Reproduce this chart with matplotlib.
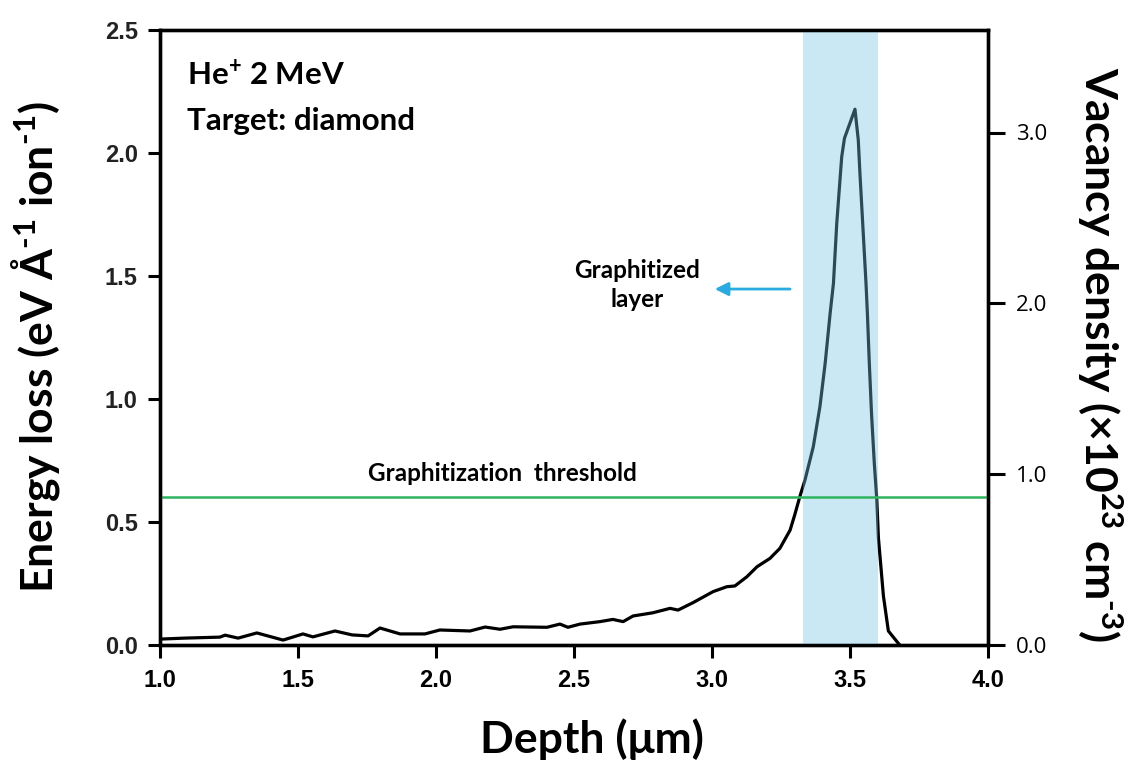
import matplotlib
matplotlib.use('Agg')
import matplotlib.pyplot as plt

# SRIM-like profile
depth = [1.00, 1.09, 1.217, 1.236, 1.283, 1.351, 1.446, 1.518, 1.554, 1.634,
         1.696, 1.754, 1.797, 1.87, 1.96, 2.014, 2.123, 2.178, 2.232, 2.279,
         2.402, 2.449, 2.478, 2.522, 2.594, 2.641, 2.678, 2.714, 2.786, 2.848,
         2.877, 2.931, 3.004, 3.054, 3.083, 3.127, 3.163, 3.210, 3.246, 3.283,
         3.30, 3.319, 3.337, 3.367, 3.391, 3.41, 3.428, 3.44, 3.452, 3.461,
         3.470, 3.480, 3.518, 3.530, 3.536, 3.546, 3.558, 3.563, 3.57, 3.578,
         3.588, 3.597, 3.603, 3.621, 3.639, 3.68]
energy_loss = [0.024, 0.028, 0.032, 0.040, 0.028, 0.049, 0.020, 0.045, 0.033, 0.057,
               0.041, 0.037, 0.069, 0.045, 0.045, 0.061, 0.057, 0.073, 0.064, 0.074,
               0.072, 0.085, 0.072, 0.085, 0.095, 0.104, 0.095, 0.118, 0.131, 0.149,
               0.142, 0.172, 0.217, 0.237, 0.240, 0.278, 0.318, 0.352, 0.393, 0.467,
               0.53, 0.606, 0.671, 0.806, 0.969, 1.145, 1.348, 1.47, 1.714, 1.85,
               1.985, 2.06, 2.178, 2.053, 1.917, 1.714, 1.47, 1.348, 1.145, 0.94,
               0.739, 0.593, 0.435, 0.2, 0.057, 0.0]
threshold = 0.6
layer = [3.33, 3.60]
xticks = [1.0, 1.5, 2.0, 2.5, 3.0, 3.5, 4.0]
left_ticks = [0.0, 0.5, 1.0, 1.5, 2.0, 2.5]
right_ticks = [0.0, 1.0, 2.0, 3.0]

plt.rcParams['mathtext.fontset'] = 'custom'
plt.rcParams['mathtext.rm'] = 'Lato:bold'
plt.rcParams['mathtext.bf'] = 'Lato:bold'
plt.rcParams['mathtext.it'] = 'Lato:bold'
plt.rcParams['mathtext.default'] = 'bf'

fig = plt.figure(figsize=(11.37, 7.65), dpi=100)
ax = fig.add_axes([160 / 1137, 1 - 645 / 765, 828 / 1137, 615 / 765])

ax.plot(depth, energy_loss, color='black', lw=2.3, zorder=2)
ax.axvspan(layer[0], layer[1], color='#76c5e0', alpha=0.38, lw=0, zorder=3)
ax.axhline(threshold, color='#2fb45e', lw=1.8, zorder=4)

ax.set_xlim(1.0, 4.0)
ax.set_ylim(0, 2.5)
ax.set_xticks(xticks)
ax.set_yticks(left_ticks)
ax.set_xticklabels(['%.1f' % v for v in xticks], fontfamily='Liberation Sans',
                   fontweight='bold', fontsize=17)
ax.set_yticklabels(['%.1f' % v for v in left_ticks], fontfamily='Liberation Sans',
                   fontweight='bold', fontsize=17, color='#222222')
ax.tick_params(axis='x', direction='out', length=9, width=2.2, pad=8)
ax.tick_params(axis='y', direction='out', length=9, width=2.2, pad=7)
for s in ax.spines.values():
    s.set_linewidth(2.4)

ax2 = ax.twinx()
ax2.set_ylim(0, 3.6)
ax2.set_yticks(right_ticks)
ax2.set_yticklabels(['%.1f' % v for v in right_ticks], fontfamily='Open Sans',
                    fontsize=16)
ax2.tick_params(direction='out', length=12, width=2.2, pad=8)
for s in ax2.spines.values():
    s.set_linewidth(2.4)

lab = dict(fontfamily='Lato', fontweight='bold', fontsize=32)
ax.set_xlabel('Depth (μm)', **lab)
ax.xaxis.set_label_coords(0.522, -0.119)
ax.set_ylabel('Energy loss (eV Å$^{\\text{-1}}$ ion$^{\\text{-1}}$)', **lab)
ax.yaxis.set_label_coords(-0.118, 0.485)
ax2.set_ylabel('Vacancy density (×10$^{\\text{23}}$ cm$^{\\text{-3}}$)',
               rotation=270, **lab)
ax2.yaxis.set_label_coords(1.165, 0.473)

ax.text(1.098, 2.318, 'He$^{\\text{+}}$ 2 MeV', fontfamily='Lato', fontweight='bold',
        fontsize=22.5, va='center')
ax.text(1.098, 2.130, 'Target: diamond', fontfamily='Lato', fontweight='bold',
        fontsize=22.5, va='center')
ax.text(2.239, 0.699, 'Graphitization  threshold', fontfamily='Lato',
        fontweight='bold', fontsize=17.5, ha='center', va='center')
ax.text(2.728, 1.463, 'Graphitized\nlayer', fontfamily='Lato', fontweight='bold',
        fontsize=17.5, ha='center', va='center', linespacing=1.3)
ax.annotate('', xy=(3.0, 1.447), xytext=(3.293, 1.447),
            arrowprops=dict(arrowstyle='-|>', color='#29abe2', lw=2,
                            mutation_scale=20))

fig.savefig('out.png', dpi=100)
